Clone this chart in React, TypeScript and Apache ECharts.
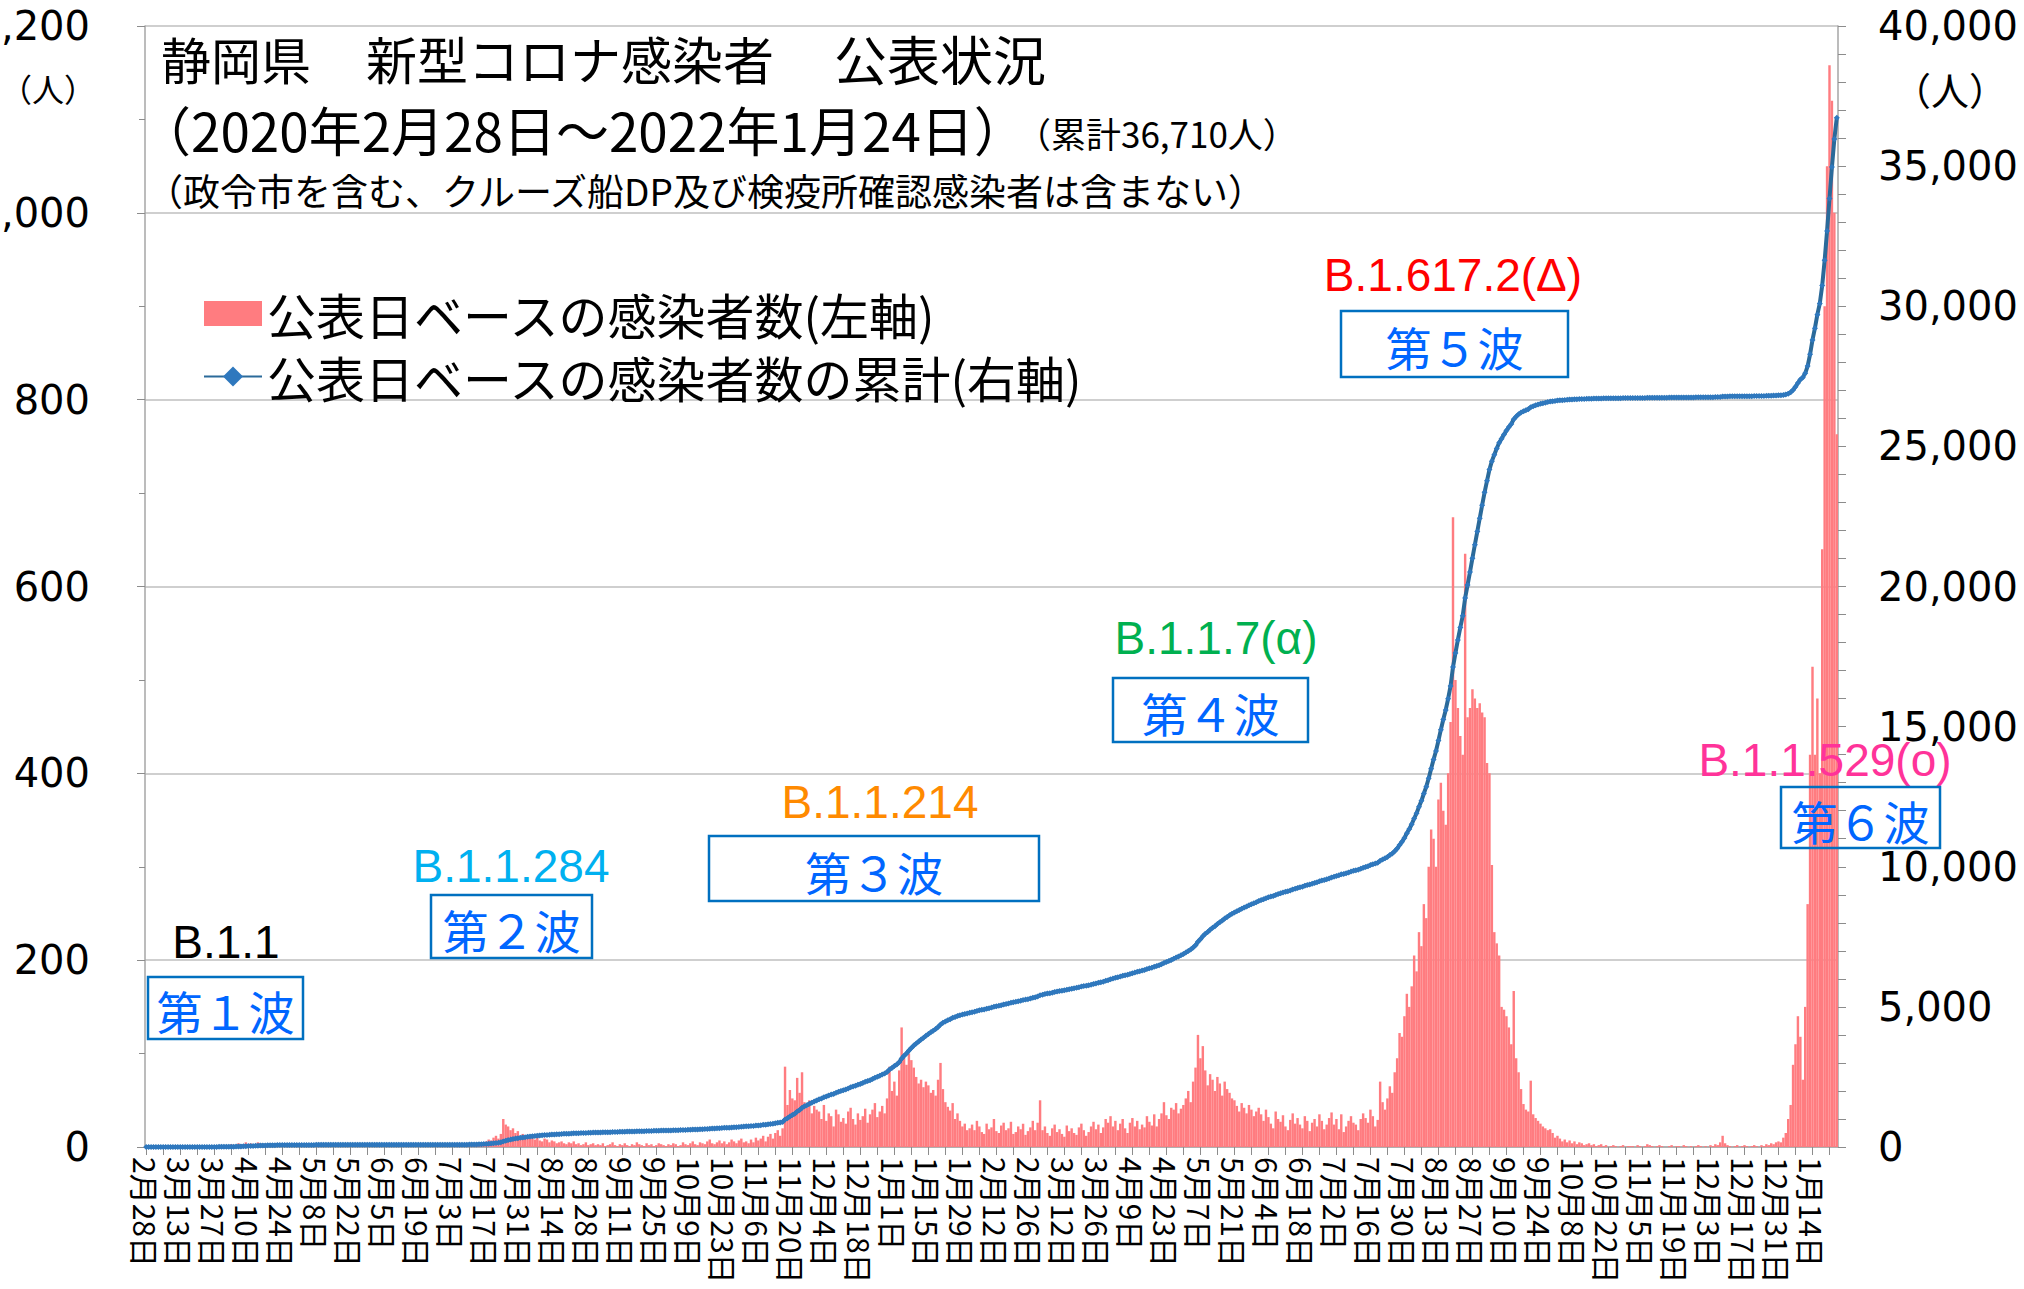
import React, { useEffect, useRef } from "react";
import * as echarts from "echarts";

// ---- daily new cases (公表日ベース), one array per month ----
const feb2020 = [1, 0];
const mar2020 = [0,0,0,0,0,1,0,0,0,0, 0,0,0,0,0,0,0,1,0,0, 0,0,0,0,1,0,0,0,1,0, 1];
const apr2020 = [1,2,3,1,2,4,3,2,5,3, 4,2,3,5,4,3,2,3,4,2, 1,2,1,2,1,0,1,0,1,0];
const may2020 = [1,0,0,1,0,0,0,1,0,0, 0,0,0,0,0,0,0,0,0,0, 0,0,0,0,0,0,0,0,0,0, 0];
const jun2020 = [0,0,0,0,0,0,0,0,0,0, 0,0,0,0,0,0,0,0,1,0, 0,0,0,0,0,1,0,0,0,1];
const jul2020 = [0,0,1,0,0,2,1,0,1,2, 3,1,2,4,3,5,6,8,7,10, 12,9,14,30,24,22,18,20,15,17, 12];
const aug2020 = [14,10,12,9,11,8,10,7,6,9, 8,5,7,6,4,5,6,4,3,5, 4,6,3,4,2,3,5,2,3,4, 2];
const sep2020 = [3,2,4,1,2,3,5,2,1,3, 2,4,2,1,3,2,5,3,2,1, 4,2,3,1,2,4,3,2,1,3];
const oct2020 = [2,4,3,1,2,5,3,2,4,6, 3,2,5,4,3,6,8,4,3,5, 7,4,6,3,5,8,6,4,7,9, 5];
const nov2020 = [6,4,8,5,10,7,9,12,6,11, 14,9,15,18,12,20,86,45,61,52, 50,74,58,80,48,42,50,36,44,40];
const dec2020 = [38,30,45,28,36,33,22,40,35,27, 31,25,38,42,30,24,36,29,33,41, 26,35,40,47,32,38,44,36,52,86, 60];
const jan2021 = [70,55,82,128,96,88,100,93,85,75, 68,72,64,70,66,58,61,55,72,90, 62,48,43,39,47,30,36,28,22,25, 18];
const feb2021 = [20,24,18,28,22,16,14,25,19,21, 30,17,15,23,26,18,20,27,14,16, 22,19,25,13,17,21,28,18];
const mar2021 = [26,50,18,22,15,12,20,24,16,19, 14,11,23,17,20,15,13,21,25,18, 12,16,22,27,19,24,15,21,30,26, 33];
const apr2021 = [22,28,18,25,30,20,15,26,31,22, 28,19,24,21,33,27,23,35,22,30, 36,48,34,30,42,40,47,36,41,45];
const may2021 = [52,60,48,70,85,120,95,108,82,66, 78,72,60,75,68,55,70,62,58,52, 50,44,38,47,42,36,45,40,33,38, 42];
const jun2021 = [35,28,40,32,25,20,38,30,27,34, 22,18,29,36,25,31,24,20,33,28, 17,26,30,22,35,28,19,24,31,37];
const jul2021 = [24,30,19,35,16,22,28,33,26,24, 18,30,36,31,26,40,33,22,29,70, 48,40,52,65,58,80,95,122,118,140, 164];
const aug2021 = [150,172,205,188,230,215,260,245,300,340, 330,300,372,390,360,345,400,455,674,500, 470,440,420,635,460,470,490,480,470,475, 465];
const sep2021 = [460,411,400,302,230,218,205,150,147,140, 128,110,167,95,80,62,46,40,38,71, 35,31,28,25,22,20,18,19,15,10];
const oct2021 = [12,9,6,8,5,7,4,6,3,5, 4,2,3,4,2,3,1,2,3,1, 2,0,1,2,1,0,1,2,0,1, 1];
const nov2021 = [1,0,2,1,0,1,3,2,1,0, 1,2,1,0,0,1,2,0,1,1, 0,2,1,0,1,0,1,2,1,0];
const dec2021 = [1,0,2,1,3,2,5,12,4,2, 1,0,1,2,0,1,2,1,0,1, 2,1,0,2,1,3,2,4,3,5, 6];
const jan2022 = [5,10,15,30,45,88,110,140,118,72, 150,260,420,514,420,480,400,640,900,1050, 1158,1120,1000,763];

const tickLabels = [
  "2月28日","3月13日","3月27日","4月10日","4月24日","5月8日","5月22日","6月5日","6月19日","7月3日",
  "7月17日","7月31日","8月14日","8月28日","9月11日","9月25日","10月9日","10月23日","11月6日","11月20日",
  "12月4日","12月18日","1月1日","1月15日","1月29日","2月12日","2月26日","3月12日","3月26日","4月9日",
  "4月23日","5月7日","5月21日","6月4日","6月18日","7月2日","7月16日","7月30日","8月13日","8月27日",
  "9月10日","9月24日","10月8日","10月22日","11月5日","11月19日","12月3日","12月17日","12月31日","1月14日",
];

const leftTicks = [0, 200, 400, 600, 800, 1000, 1200];
const rightTicks = [0, 5000, 10000, 15000, 20000, 25000, 30000, 35000, 40000];

const barName = "公表日ベースの感染者数(左軸)";
const lineName = "公表日ベースの感染者数の累計(右軸)";

const daily: number[] = [
  ...feb2020, ...mar2020, ...apr2020, ...may2020, ...jun2020, ...jul2020, ...aug2020,
  ...sep2020, ...oct2020, ...nov2020, ...dec2020, ...jan2021, ...feb2021, ...mar2021,
  ...apr2021, ...may2021, ...jun2021, ...jul2021, ...aug2021, ...sep2021, ...oct2021,
  ...nov2021, ...dec2021, ...jan2022,
];

const categories: string[] = daily.map((_, i) => {
  const d = new Date(2020, 1, 28 + i);
  return `${d.getMonth() + 1}月${d.getDate()}日`;
});

const cumulative: number[] = [];
daily.reduce((acc, v) => {
  const s = acc + v;
  cumulative.push(s);
  return s;
}, 0);

const CJK = "'Noto Sans CJK JP', sans-serif";
const LAT = "'Liberation Sans', Arial, sans-serif";

const annotations = [
  { variant: "B.1.1", color: "#000000", vx: 226, vy: 942, wave: "第１波", bx: 148, by: 977, bw: 155, bh: 62 },
  { variant: "B.1.1.284", color: "#00B0F0", vx: 511, vy: 866, wave: "第２波", bx: 431, by: 895, bw: 161, bh: 63 },
  { variant: "B.1.1.214", color: "#FF8A00", vx: 880, vy: 802, wave: "第３波", bx: 709, by: 836, bw: 330, bh: 65 },
  { variant: "B.1.1.7(α)", color: "#00B050", vx: 1216, vy: 638, wave: "第４波", bx: 1113, by: 678, bw: 195, bh: 64 },
  { variant: "B.1.617.2(Δ)", color: "#FF0000", vx: 1453, vy: 275, wave: "第５波", bx: 1341, by: 311, bw: 227, bh: 66 },
  { variant: "B.1.1.529(o)", color: "#FF3399", vx: 1825, vy: 760, wave: "第６波", bx: 1781, by: 787, bw: 159, bh: 61 },
];

export default function App() {
  const ref = useRef<HTMLDivElement>(null);
  useEffect(() => {
    if (!ref.current) return;
    const chart = echarts.init(ref.current, null, { renderer: "svg" });
    const fmt = (v: number) => v.toLocaleString("en-US");
    const graphics: any[] = [
      { type: "text", z: 100, style: { text: "静岡県", x: 161, y: 58, fontSize: 50, fontFamily: CJK, fill: "#000", textVerticalAlign: "middle" } },
      { type: "text", z: 100, style: { text: "新型コロナ感染者", x: 366, y: 58, fontSize: 51, fontFamily: CJK, fill: "#000", textVerticalAlign: "middle" } },
      { type: "text", z: 100, style: { text: "公表状況", x: 834, y: 58, fontSize: 53, fontFamily: CJK, fill: "#000", textVerticalAlign: "middle" } },
      { type: "text", z: 100, style: { text: "（2020年2月28日～2022年1月24日）", x: 138, y: 129, fontSize: 53, fontFamily: CJK, fill: "#000", textVerticalAlign: "middle" } },
      { type: "text", z: 100, style: { text: "（累計36,710人）", x: 1016, y: 132, fontSize: 35, fontFamily: CJK, fill: "#000", textVerticalAlign: "middle" } },
      { type: "text", z: 100, style: { text: "（政令市を含む、クルーズ船DP及び検疫所確認感染者は含まない）", x: 146, y: 190, fontSize: 37, fontFamily: CJK, fill: "#000", textVerticalAlign: "middle" } },
      { type: "text", z: 100, style: { text: "（人）", x: 0, y: 88, fontSize: 32, fontFamily: CJK, fill: "#000", textVerticalAlign: "middle" } },
      { type: "text", z: 100, style: { text: "（人）", x: 1893, y: 88, fontSize: 38, fontFamily: CJK, fill: "#000", textVerticalAlign: "middle" } },
    ];
    annotations.forEach((a) => {
      graphics.push({ type: "text", z: 100, style: { text: a.variant, x: a.vx, y: a.vy, fontSize: 46, fontFamily: LAT, fill: a.color, textAlign: "center", textVerticalAlign: "middle" } });
      graphics.push({ type: "rect", z: 100, shape: { x: a.bx, y: a.by, width: a.bw, height: a.bh }, style: { fill: "none", stroke: "#0070C0", lineWidth: 2.5 } });
      graphics.push({ type: "text", z: 101, style: { text: a.wave, x: a.bx + a.bw / 2, y: a.by + a.bh / 2 + 2, fontSize: 46, fontFamily: CJK, fill: "#0066FF", textAlign: "center", textVerticalAlign: "middle" } });
    });

    chart.setOption({
      animation: false,
      backgroundColor: "#ffffff",
      grid: { left: 145, right: 186, top: 26, bottom: 142, outerBoundsMode: "none" },
      legend: {
        orient: "vertical",
        left: 198,
        top: 284,
        itemWidth: 58,
        itemHeight: 25,
        itemGap: 14,
        textStyle: { fontSize: 49, fontFamily: CJK, color: "#000", lineHeight: 48 },
        data: [{ name: barName, icon: "rect" }, { name: lineName }],
      },
      xAxis: {
        type: "category",
        data: categories,
        boundaryGap: true,
        axisLine: { show: true, lineStyle: { color: "#A6A6A6", width: 1.5 } },
        axisTick: { show: true, interval: 6, alignWithLabel: true, length: 8, lineStyle: { color: "#8C8C8C" } },
        axisLabel: {
          interval: 13,
          rotate: -90,
          fontSize: 30,
          fontFamily: CJK,
          color: "#000",
          margin: 10,
          formatter: (v: string, i: number) => (i % 14 === 0 ? tickLabels[i / 14] ?? v : ""),
        },
        splitLine: { show: false },
      },
      yAxis: [
        {
          type: "value",
          min: leftTicks[0],
          max: leftTicks[leftTicks.length - 1],
          interval: 200,
          position: "left",
          axisLine: { show: true, lineStyle: { color: "#A6A6A6", width: 1.5 } },
          axisTick: { show: true, length: 8, lineStyle: { color: "#8C8C8C" } },
          minorTick: { show: true, splitNumber: 2, length: 6, lineStyle: { color: "#8C8C8C" } },
          splitLine: { show: true, lineStyle: { color: "#BFBFBF", width: 1.5 } },
          axisLabel: { fontSize: 40, fontFamily: "'DejaVu Sans', sans-serif", color: "#000", margin: 55, formatter: fmt },
        },
        {
          type: "value",
          min: rightTicks[0],
          max: rightTicks[rightTicks.length - 1],
          interval: 5000,
          position: "right",
          axisLine: { show: true, lineStyle: { color: "#A6A6A6", width: 1.5 } },
          axisTick: { show: true, length: 8, lineStyle: { color: "#8C8C8C" } },
          minorTick: { show: true, splitNumber: 5, length: 8, lineStyle: { color: "#8C8C8C" } },
          splitLine: { show: false },
          axisLabel: { fontSize: 40, fontFamily: "'DejaVu Sans', sans-serif", color: "#000", margin: 40, formatter: fmt },
        },
      ],
      series: [
        {
          name: barName,
          type: "bar",
          yAxisIndex: 0,
          data: daily,
          barCategoryGap: "0%",
          itemStyle: { color: "#FF7C80" },
          z: 2,
        },
        {
          name: lineName,
          type: "line",
          yAxisIndex: 1,
          data: cumulative,
          showSymbol: true,
          showAllSymbol: true,
          symbol: "diamond",
          symbolSize: 6,
          itemStyle: { color: "#2F78BE" },
          lineStyle: { color: "#2B6A9A", width: 4 },
          z: 3,
        },
      ],
      graphic: graphics,
    });
    return () => chart.dispose();
  }, []);
  return <div ref={ref} style={{ position: "fixed", left: 0, top: 0, width: 2024, height: 1289 }} />;
}
